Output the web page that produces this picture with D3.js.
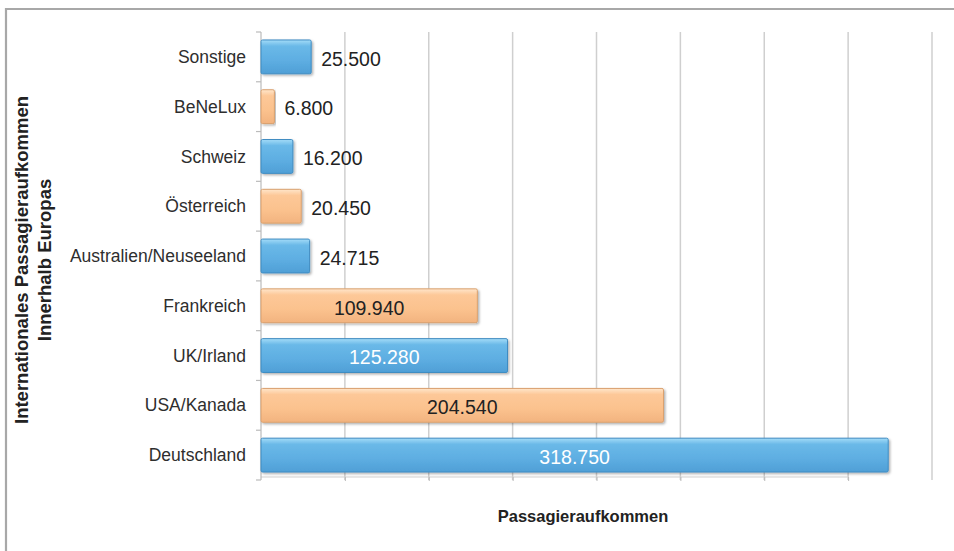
<!DOCTYPE html>
<html>
<head>
<meta charset="utf-8">
<script src="https://cdn.jsdelivr.net/npm/d3@7"></script>
<style>
  body { margin: 0; background: #fff; }
  svg { display: block; font-family: "Liberation Sans", Arial, sans-serif; }
</style>
</head>
<body>
<svg id="chart"></svg>
<script>
// data, top to bottom as in the chart
var categories = ["Sonstige", "BeNeLux", "Schweiz", "Österreich", "Australien/Neuseeland",
  "Frankreich", "UK/Irland", "USA/Kanada", "Deutschland"];
var values = [25500, 6800, 16200, 20450, 24715, 109940, 125280, 204540, 318750];
var seriesColor = ["blue", "orange", "blue", "orange", "blue", "orange", "blue", "orange", "blue"];
var yTitle = ["Internationales Passagieraufkommen", "Innerhalb Europas"];
var xTitle = "Passagieraufkommen";
var xMax = 341000;
var gridCount = 8;

var width = 954, height = 551;
var svg = d3.select("#chart").attr("width", width).attr("height", height);

// frame
svg.append("path")
  .attr("d", "M6,560 V9 H960")
  .attr("fill", "none")
  .attr("stroke", "#a8a8a8")
  .attr("stroke-width", 2.2);

var defs = svg.append("defs");
var grads = {
  blue: ["#a4dcf8", "#6ab9e8", "#5eaee2", "#4f9fd6"],
  orange: ["#ffe6cb", "#fdc898", "#fbc28e", "#f2b37f"]
};
Object.keys(grads).forEach(function (k) {
  var g = defs.append("linearGradient").attr("id", "g-" + k)
    .attr("x1", 0).attr("y1", 0).attr("x2", 0).attr("y2", 1);
  g.append("stop").attr("offset", "0%").attr("stop-color", grads[k][0]);
  g.append("stop").attr("offset", "18%").attr("stop-color", grads[k][1]);
  g.append("stop").attr("offset", "60%").attr("stop-color", grads[k][2]);
  g.append("stop").attr("offset", "100%").attr("stop-color", grads[k][3]);
});
var shadow = defs.append("filter").attr("id", "shadow")
  .attr("x", "-5%").attr("y", "-20%").attr("width", "115%").attr("height", "160%");
shadow.append("feDropShadow").attr("dx", 1.5).attr("dy", 1.5)
  .attr("stdDeviation", 1.2).attr("flood-color", "#000").attr("flood-opacity", 0.3);
var strokes = { blue: "#3f8cc2", orange: "#d9a06e" };

var x = d3.scaleLinear().domain([0, xMax]).range([261, 932]);
var y = d3.scaleBand().domain(categories).range([32, 480]).paddingInner(0.32).paddingOuter(0.16);

// gridlines
var gridVals = d3.range(1, gridCount + 1).map(function (i) { return xMax * i / gridCount; });
svg.append("g").selectAll("line")
  .data(gridVals)
  .enter().append("line")
  .attr("x1", function (d) { return x(d); })
  .attr("x2", function (d) { return x(d); })
  .attr("y1", 32).attr("y2", 480)
  .attr("stroke", "#cfcfcf").attr("stroke-width", 1.5);

// x axis (ticks down, no labels)
var xAxis = svg.append("g").attr("transform", "translate(0,477)")
  .call(d3.axisBottom(x).tickValues(gridVals.slice(0, gridCount - 1)).tickSize(4).tickFormat(""));
xAxis.select(".domain").attr("stroke", "#cfcfcf").attr("stroke-width", 1.2)
  .attr("d", "M" + x(0) + ",0H" + x(gridVals[gridCount - 2]));
xAxis.selectAll(".tick line").attr("stroke", "#bbb");

// y axis line with category boundary ticks
var bounds = d3.range(categories.length + 1).map(function (i) {
  return 32 + i * (480 - 32) / categories.length;
});
svg.append("line").attr("x1", x(0)).attr("x2", x(0)).attr("y1", 32).attr("y2", 480)
  .attr("stroke", "#bbb").attr("stroke-width", 1.2);
svg.append("g").selectAll("line").data(bounds).enter().append("line")
  .attr("x1", x(0) - 5).attr("x2", x(0))
  .attr("y1", function (d) { return d; }).attr("y2", function (d) { return d; })
  .attr("stroke", "#bbb").attr("stroke-width", 1.2);

// bars
svg.append("g").selectAll("rect")
  .data(values)
  .enter().append("rect")
  .attr("x", x(0))
  .attr("y", function (d, i) { return y(categories[i]); })
  .attr("width", function (d) { return x(d) - x(0); })
  .attr("height", y.bandwidth())
  .attr("rx", 1.5)
  .attr("fill", function (d, i) { return "url(#g-" + seriesColor[i] + ")"; })
  .attr("stroke", function (d, i) { return strokes[seriesColor[i]]; })
  .attr("stroke-width", 1)
  .attr("filter", "url(#shadow)");

// category labels
svg.append("g").selectAll("text")
  .data(categories)
  .enter().append("text")
  .attr("x", 246)
  .attr("y", function (d) { return y(d) + y.bandwidth() / 2; })
  .attr("dy", "0.35em")
  .attr("text-anchor", "end")
  .attr("font-size", 17.5)
  .attr("fill", "#2e2e2e")
  .text(function (d) { return d; });

// value labels
var fmt = d3.formatLocale({ decimal: ",", thousands: ".", grouping: [3], currency: ["", " €"] }).format(",d");
svg.append("g").selectAll("text")
  .data(values)
  .enter().append("text")
  .attr("x", function (d) { return d > 60000 ? (x(0) + x(d)) / 2 : x(d) + 10; })
  .attr("y", function (d, i) { return y(categories[i]) + y.bandwidth() / 2 + 2; })
  .attr("dy", "0.35em")
  .attr("text-anchor", function (d) { return d > 60000 ? "middle" : "start"; })
  .attr("font-size", 19.5)
  .attr("fill", function (d, i) { return d > 60000 && seriesColor[i] == "blue" ? "#fff" : "#222"; })
  .text(function (d) { return fmt(d); });

// titles
svg.append("text")
  .attr("transform", "translate(28,260) rotate(-90)")
  .attr("text-anchor", "middle")
  .attr("font-size", 18.5)
  .attr("font-weight", "bold")
  .attr("fill", "#222")
  .selectAll("tspan").data(yTitle).enter().append("tspan")
  .attr("x", 0).attr("dy", function (d, i) { return i ? "1.22em" : 0; })
  .text(function (d) { return d; });

svg.append("text")
  .attr("x", 583).attr("y", 522)
  .attr("text-anchor", "middle")
  .attr("font-size", 16.5)
  .attr("font-weight", "bold")
  .attr("fill", "#222")
  .text(xTitle);
</script>
</body>
</html>
